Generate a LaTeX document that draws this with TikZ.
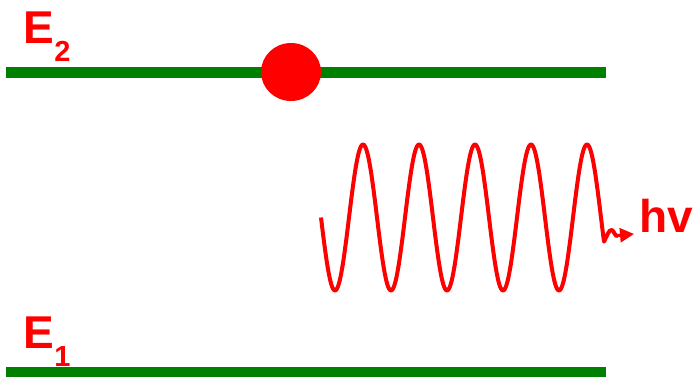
\documentclass[tikz,border=0pt]{standalone}
\usepackage{fontspec}
\setmainfont{Liberation Sans}
\usetikzlibrary{arrows.meta,shapes.geometric}
\definecolor{lvlgreen}{RGB}{0,128,0}
\definecolor{phred}{RGB}{255,0,0}
\begin{document}
\begin{tikzpicture}[x=1pt,y=-1pt,
  level/.style={draw=lvlgreen, line width=11pt},
  lbl/.style={text=phred, inner sep=0pt, font=\bfseries\fontsize{46}{46}\selectfont},
  wave/.style={draw=phred, line width=4pt, line join=round}]
\useasboundingbox (0,0) rectangle (694,378);
\coordinate (u1) at (6,72);
\coordinate (u2) at (606,72);
\coordinate (l1) at (6,372);
\coordinate (l2) at (606,372);
\draw[level] (u1) -- (u2);
\draw[level, line width=10pt] (l1) -- (l2);
\node[fill=phred, ellipse, inner sep=0pt, minimum width=60pt, minimum height=58pt, draw=none] (atom) at (291,72) {};
\node[lbl, anchor=base west] (E2) at (23.5,43) {E\raisebox{-18pt}{\fontsize{29}{29}\selectfont 2}};
\node[lbl, anchor=base west] (E1) at (23.5,348) {E\raisebox{-18pt}{\fontsize{29}{29}\selectfont 1}};
\node[lbl, anchor=base west] (hv) at (639,232) {hv};
\coordinate (tip) at (634,234);
\draw[wave] plot[domain=0:283, samples=300, smooth] ({321+\x},{217.5+73*sin(\x*6.42857)})
  .. controls (607,236) and (609,229) .. (612,230)
  .. controls (614,231) and (615,237) .. (618,236);
\draw[draw=phred, line width=3pt, -{Triangle[length=14pt,width=14pt]}] (617,235.5) -- (tip);
\end{tikzpicture}
\end{document}
